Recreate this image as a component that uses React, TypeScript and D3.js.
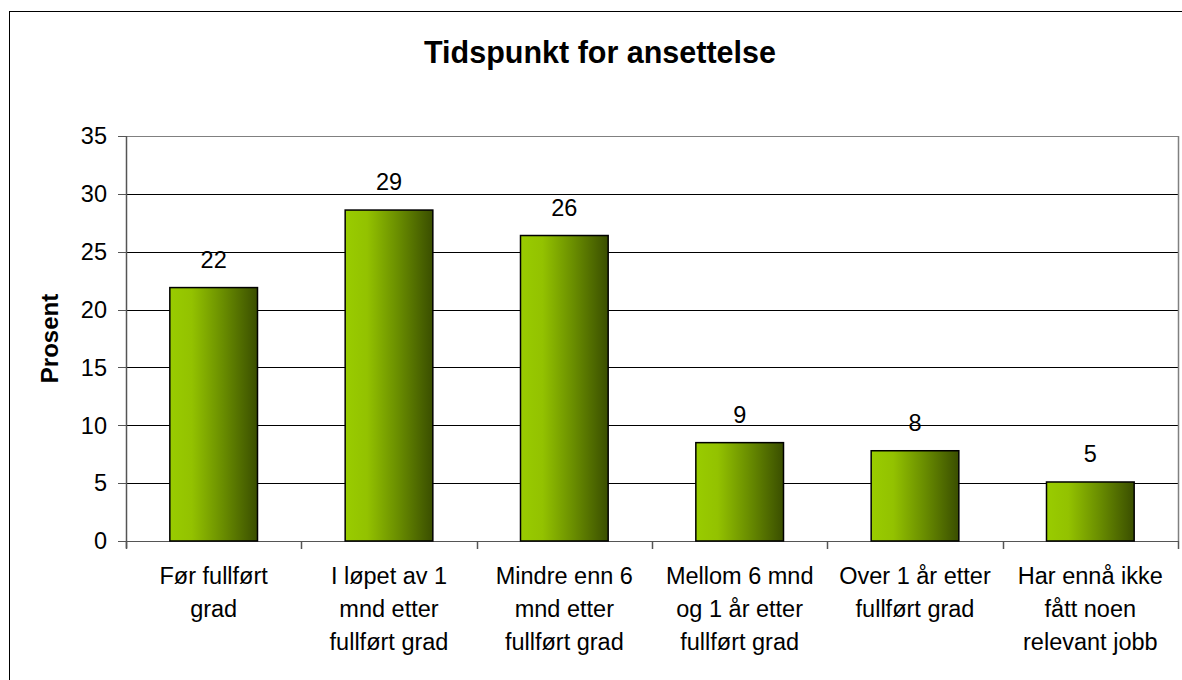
import React from "react";
import * as d3 from "d3";

const categories: string[][] = [
  ["Før fullført", "grad"],
  ["I løpet av 1", "mnd etter", "fullført grad"],
  ["Mindre enn 6", "mnd etter", "fullført grad"],
  ["Mellom 6 mnd", "og 1 år etter", "fullført grad"],
  ["Over 1 år etter", "fullført grad"],
  ["Har ennå ikke", "fått noen", "relevant jobb"],
];
const values: number[] = [21.9, 28.6, 26.4, 8.5, 7.8, 5.1];
const yTicks: number[] = [0, 5, 10, 15, 20, 25, 30, 35];
const title = "Tidspunkt for ansettelse";
const yTitle = "Prosent";

const W = 1182;
const H = 680;
const plot = { left: 126, right: 1178, top: 136, bottom: 541 };
const FONT = "Arial, 'Liberation Sans', sans-serif";

export default function App() {
  const ids = categories.map((_, i) => i);
  const x = d3
    .scaleBand<number>()
    .domain(ids)
    .range([plot.left, plot.right])
    .paddingInner(0.5)
    .paddingOuter(0.25);
  const y = d3.scaleLinear().domain([0, 35]).range([plot.bottom, plot.top]);
  const boundaries = d3.range(categories.length + 1).map((i) => plot.left + i * (plot.right - plot.left) / categories.length);

  return (
    <svg
      width={W}
      height={H}
      style={{ position: "absolute", left: 0, top: 0, display: "block", background: "#fff" }}
      fontFamily={FONT}
    >
      <defs>
        <linearGradient id="barGrad" x1="0" y1="0" x2="1" y2="0">
          <stop offset="0%" stopColor="#99CC00" />
          <stop offset="25%" stopColor="#93C200" />
          <stop offset="60%" stopColor="#6A8E00" />
          <stop offset="100%" stopColor="#3A4E00" />
        </linearGradient>
      </defs>
      <rect x={0} y={0} width={W} height={H} fill="#fff" />
      <rect x={9.5} y={11.5} width={W + 10} height={H + 10} fill="none" stroke="#000" strokeWidth={1} />

      <text x={600} y={63} textAnchor="middle" fontSize={30.5} fontWeight="bold" fill="#000">
        {title}
      </text>

      {yTicks.map((t) => (
        <line
          key={"g" + t}
          x1={plot.left}
          x2={plot.right}
          y1={Math.round(y(t)) + 0.5}
          y2={Math.round(y(t)) + 0.5}
          stroke={t === 35 ? "#808080" : t === 0 ? "#555" : "#000"}
          strokeWidth={1}
        />
      ))}
      <line x1={plot.right + 0.5} x2={plot.right + 0.5} y1={plot.top} y2={plot.bottom} stroke="#808080" strokeWidth={1.5} />

      {values.map((v, i) => (
        <rect
          key={"b" + i}
          x={x(i)!}
          y={y(v)}
          width={x.bandwidth()}
          height={y(0) - y(v)}
          fill="url(#barGrad)"
          stroke="#000"
          strokeWidth={1.5}
        />
      ))}

      {values.map((v, i) => (
        <text key={"l" + i} x={x(i)! + x.bandwidth() / 2} y={y(v) - 20} textAnchor="middle" fontSize={23.5} fill="#000">
          {Math.round(v)}
        </text>
      ))}

      <line x1={plot.left + 0.5} x2={plot.left + 0.5} y1={plot.top} y2={plot.bottom + 7} stroke="#555" strokeWidth={1.5} />
      {yTicks.map((t) => (
        <g key={"t" + t}>
          <line x1={plot.left - 8} x2={plot.left} y1={Math.round(y(t)) + 0.5} y2={Math.round(y(t)) + 0.5} stroke="#555" strokeWidth={1} />
          <text x={107} y={y(t)} dy="0.35em" textAnchor="end" fontSize={23.5} fill="#000">
            {t}
          </text>
        </g>
      ))}
      <text
        transform={`translate(58,${(plot.top + plot.bottom) / 2}) rotate(-90)`}
        textAnchor="middle"
        fontSize={24}
        fontWeight="bold"
        fill="#000"
      >
        {yTitle}
      </text>

      {boundaries.map((bx, i) => (
        <line key={"xt" + i} x1={Math.round(bx) + 0.5} x2={Math.round(bx) + 0.5} y1={plot.bottom} y2={plot.bottom + 8} stroke="#555" strokeWidth={1.5} />
      ))}
      {categories.map((lines, i) => (
        <text key={"c" + i} x={x(i)! + x.bandwidth() / 2} textAnchor="middle" fontSize={23.5} fill="#000">
          {lines.map((ln, j) => (
            <tspan key={j} x={x(i)! + x.bandwidth() / 2} y={584 + j * 33}>
              {ln}
            </tspan>
          ))}
        </text>
      ))}
    </svg>
  );
}
